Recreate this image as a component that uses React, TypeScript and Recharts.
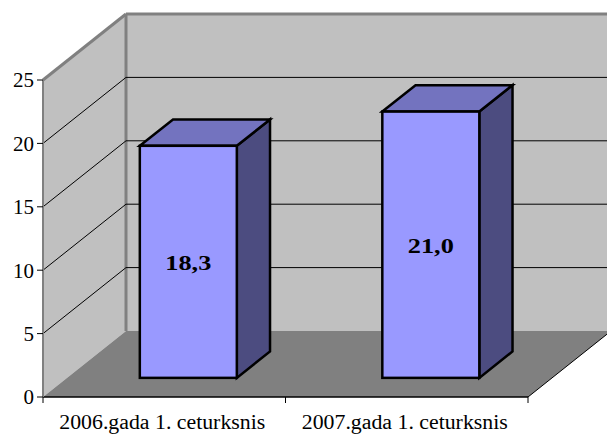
import React from 'react';
import { BarChart, Bar, XAxis, YAxis, CartesianGrid, LabelList } from 'recharts';

const categories = ['2006.gada 1. ceturksnis', '2007.gada 1. ceturksnis'];
const values = [18.3, 21.0];
const yTicks = [0, 5, 10, 15, 20, 25];
const gridValues = [5, 10, 15, 20];

const data = categories.map((name, i) => ({ name, value: values[i] }));

const W = 607;
const H = 435;
const MARGIN = { top: 80, right: 79, bottom: 8, left: 0 };
const Y_AXIS_W = 43;
const X_AXIS_H = 30;
const PLOT = { x: 43, y: 80, w: 485, h: 317 };
const DX = 83;
const DY = 66;
const FRONT = 0.29;
const DEPTH = 0.4;
const FONT = "'Liberation Serif', 'Times New Roman', serif";

const Walls = () => {
  const x0 = PLOT.x;
  const y0 = PLOT.y;
  const x1 = PLOT.x + PLOT.w;
  const y1 = PLOT.y + PLOT.h;
  return (
    <svg width={W} height={H} style={{ position: 'absolute', left: 0, top: 0 }}>
      <rect x={x0 + DX} y={y0 - DY} width={PLOT.w} height={PLOT.h} fill="#C0C0C0" />
      <polygon
        points={`${x0},${y0} ${x0 + DX},${y0 - DY} ${x0 + DX},${y1 - DY} ${x0},${y1}`}
        fill="#C0C0C0"
      />
      <polygon
        points={`${x0},${y1} ${x0 + DX},${y1 - DY} ${x1 + DX},${y1 - DY} ${x1},${y1}`}
        fill="#808080"
      />
      <line x1={x0} y1={y0} x2={x0 + DX} y2={y0 - DY} stroke="#808080" strokeWidth={3} />
      <line x1={x0 + DX} y1={y0 - DY} x2={x1 + DX} y2={y0 - DY} stroke="#808080" strokeWidth={3} />
      <line x1={x0 + DX} y1={y0 - DY} x2={x0 + DX} y2={y1 - DY} stroke="#808080" strokeWidth={3} />
      <line x1={x1} y1={y1} x2={x1 + DX} y2={y1 - DY} stroke="#000" strokeWidth={1} />
    </svg>
  );
};

const GridLine = (props: any) => {
  const { x1, y1, x2 } = props;
  const top = typeof props.y === 'number' ? props.y : PLOT.y;
  const bottom = top + (typeof props.height === 'number' ? props.height : PLOT.h);
  if (Math.abs(y1 - top) < 1 || Math.abs(y1 - bottom) < 1) return <g />;
  const bx = x1 + DX;
  const by = y1 - DY;
  return (
    <g>
      <line x1={x1} y1={y1} x2={bx} y2={by} stroke="#000" strokeWidth={1} />
      <line x1={bx} y1={by} x2={x2 + DX} y2={by} stroke="#000" strokeWidth={1} />
    </g>
  );
};

const Bar3D = (props: any) => {
  const { x, y, width, height } = props;
  if (width == null || height == null) return null;
  const fx = x + DX * FRONT;
  const fy = y - DY * FRONT;
  const ddx = DX * DEPTH;
  const ddy = DY * DEPTH;
  const sw = 2.5;
  return (
    <g>
      <polygon
        points={`${fx + width},${fy} ${fx + width + ddx},${fy - ddy} ${fx + width + ddx},${fy + height - ddy} ${fx + width},${fy + height}`}
        fill="#4C4C80"
        stroke="#000"
        strokeWidth={sw}
      />
      <polygon
        points={`${fx},${fy} ${fx + ddx},${fy - ddy} ${fx + width + ddx},${fy - ddy} ${fx + width},${fy}`}
        fill="#7373BF"
        stroke="#000"
        strokeWidth={sw}
      />
      <rect x={fx} y={fy} width={width} height={height} fill="#9999FF" stroke="#000" strokeWidth={sw} />
    </g>
  );
};

const BarLabel = (props: any) => {
  const vb = props.viewBox || {};
  const x = props.x ?? vb.x;
  const y = props.y ?? vb.y;
  const width = props.width ?? vb.width;
  const height = props.height ?? vb.height;
  const v = Number(props.value);
  const cx = x + width / 2 + DX * FRONT;
  const cy = y + height / 2 - DY * FRONT;
  return (
    <text
      x={cx}
      y={cy}
      dy="0.36em"
      textAnchor="middle"
      style={{ fontFamily: FONT, fontWeight: 'bold', fontSize: 22 }}
      fill="#000"
      textLength={46}
      lengthAdjust="spacingAndGlyphs"
    >
      {v.toFixed(1).replace('.', ',')}
    </text>
  );
};

const XTick = (props: any) => {
  const { x, y, payload, index } = props;
  const count = props.visibleTicksCount || categories.length;
  const axisW = typeof props.width === 'number' && props.width > 0 ? props.width : PLOT.w;
  const band = axisW / count;
  const left = x - band / 2;
  const right = x + band / 2;
  return (
    <g>
      <line x1={left} y1={y} x2={left} y2={y + 6} stroke="#000" strokeWidth={1} />
      {index === count - 1 && <line x1={right} y1={y} x2={right} y2={y + 6} stroke="#000" strokeWidth={1} />}
      <text
        x={x - 2}
        y={y + 18}
        dy="0.71em"
        textAnchor="middle"
        style={{ fontFamily: FONT, fontSize: 20 }}
        fill="#000"
        textLength={206}
        lengthAdjust="spacingAndGlyphs"
      >
        {payload.value}
      </text>
    </g>
  );
};

const YTick = (props: any) => {
  const { x, y, payload } = props;
  return (
    <text
      x={x}
      y={y}
      dy="0.35em"
      textAnchor="end"
      style={{ fontFamily: FONT, fontSize: 21 }}
      fill="#000"
    >
      {payload.value}
    </text>
  );
};

export default function App() {
  return (
    <div style={{ position: 'absolute', left: 0, top: 0, width: W, height: H, background: '#fff' }}>
      <Walls />
      <div style={{ position: 'absolute', left: 0, top: 0 }}>
        <BarChart width={W} height={H} data={data} margin={MARGIN} barCategoryGap="30%">
          <CartesianGrid
            vertical={false}
            horizontalValues={gridValues}
            horizontal={(p: any) => <GridLine {...p} key={p.key} />}
          />
          <XAxis
            dataKey="name"
            height={X_AXIS_H}
            tickSize={0}
            tickMargin={0}
            tickLine={false}
            axisLine={{ stroke: '#000', strokeWidth: 1.5 }}
            tick={<XTick />}
            interval={0}
          />
          <YAxis
            width={Y_AXIS_W}
            domain={[0, 25]}
            ticks={yTicks}
            interval={0}
            tickSize={6}
            tickMargin={3}
            tickLine={{ stroke: '#000' }}
            axisLine={{ stroke: '#808080', strokeWidth: 2 }}
            tick={<YTick />}
          />
          <Bar dataKey="value" shape={<Bar3D />} isAnimationActive={false}>
            <LabelList dataKey="value" content={<BarLabel />} />
          </Bar>
        </BarChart>
      </div>
    </div>
  );
}
